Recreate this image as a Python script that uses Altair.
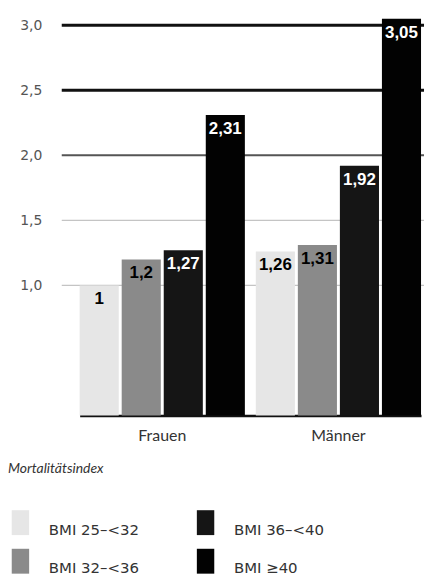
import altair as alt
import pandas as pd

genders = ["Frauen", "Männer"]
bmi_classes = ["BMI 25–<32", "BMI 32–<36", "BMI 36–<40", "BMI ≥40"]
frauen_values = [1.0, 1.2, 1.27, 2.31]
maenner_values = [1.26, 1.31, 1.92, 3.05]
grid_values = [1.0, 1.5, 2.0, 2.5, 3.0]
legend_title = "Mortalitätsindex"

rows = []
for g, vals in zip(genders, [frauen_values, maenner_values]):
    for b, v in zip(bmi_classes, vals):
        rows.append({"gender": g, "bmi": b, "value": v})
df = pd.DataFrame(rows)
grid_df = pd.DataFrame({"g": grid_values})

bar_colors = ["#e6e6e6", "#8a8a8a", "#151515", "#020202"]

x_enc = alt.X(
    "gender:N",
    sort=genders,
    title=None,
    scale=alt.Scale(paddingInner=0.0621, paddingOuter=0, range=[18, 361]),
    axis=alt.Axis(
        labelAngle=0, ticks=False, domain=True, domainColor="#111",
        domainWidth=2.5, labelFont="Lato", labelFontSize=16,
        labelColor="#333", labelPadding=12, grid=False,
    ),
)
y_scale = alt.Scale(domain=[0, 3.1], nice=False, zero=True)
y_enc = alt.Y(
    "value:Q",
    scale=y_scale,
    title=None,
    axis=alt.Axis(
        values=grid_values, grid=False, domain=False, ticks=False,
        labelExpr="replace(format(datum.value, '.1f'), '.', ',')",
        labelFont="DejaVu Sans", labelFontSize=14, labelColor="#555",
        labelPadding=20, minExtent=54, maxExtent=54,
    ),
)

base_grid = alt.Chart(grid_df)
grid_light = base_grid.transform_filter("datum.g < 2").mark_rule(
    stroke="#c4c4c4", strokeWidth=1.3).encode(y=alt.Y("g:Q", scale=y_scale))
grid_mid = base_grid.transform_filter("datum.g == 2").mark_rule(
    stroke="#555555", strokeWidth=2).encode(y=alt.Y("g:Q", scale=y_scale))
grid_heavy = base_grid.transform_filter("datum.g > 2").mark_rule(
    stroke="#111111", strokeWidth=3).encode(y=alt.Y("g:Q", scale=y_scale))

bars = alt.Chart(df).mark_bar(opacity=1).encode(
    x=x_enc,
    xOffset=alt.XOffset("bmi:N", sort=bmi_classes,
                        scale=alt.Scale(paddingInner=0.07, paddingOuter=0)),
    y=y_enc,
    fill=alt.Fill(
        "bmi:N",
        scale=alt.Scale(domain=bmi_classes, range=bar_colors),
        legend=alt.Legend(
            title=legend_title, orient="none", legendX=-54, legendY=452,
            columns=2, direction="vertical",
            symbolType="M-0.7,-1H0.7V1H-0.7Z", symbolSize=625,
            symbolStrokeWidth=0, symbolOpacity=1,
            labelFont="DejaVu Sans", labelFontSize=15, labelColor="#333",
            labelBaseline="top", labelOffset=16,
            titleFont="Lato", titleFontStyle="italic", titleFontWeight="normal",
            titleFontSize=14, titleColor="#333", titlePadding=34,
            rowPadding=11, columnPadding=54,
        ),
    ),
)

labels = alt.Chart(df).transform_calculate(
    label="replace(toString(datum.value), '.', ',')"
).mark_text(
    font="Liberation Sans", fontWeight="bold", fontSize=17,
    baseline="alphabetic", dy=19,
).encode(
    x=alt.X("gender:N", sort=genders),
    xOffset=alt.XOffset("bmi:N", sort=bmi_classes),
    y=alt.Y("value:Q", scale=y_scale),
    text="label:N",
    fill=alt.condition(
        "datum.bmi == 'BMI 36–<40' || datum.bmi == 'BMI ≥40'",
        alt.value("white"), alt.value("black"),
    ),
)

chart = alt.layer(grid_light, grid_mid, grid_heavy, bars, labels).properties(
    width=364, height=405,
    padding={"top": 3, "left": 0, "right": 0, "bottom": 0},
).configure_view(stroke=None).configure_axis(labelFont="Lato")

chart.save("out.html", embed_options={"renderer": "svg", "actions": False})
